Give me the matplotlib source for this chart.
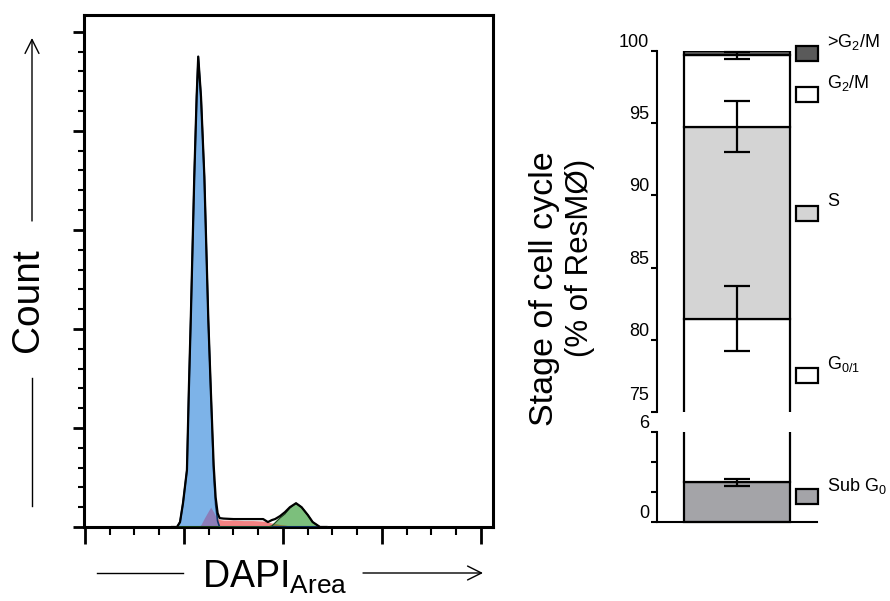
import numpy as np
import matplotlib
matplotlib.use("Agg")
import matplotlib.pyplot as plt
from matplotlib.patches import Rectangle, FancyArrowPatch
from matplotlib.lines import Line2D
from matplotlib.ticker import MultipleLocator
from matplotlib.transforms import ScaledTranslation

plt.rcParams['font.family'] = ['Liberation Sans', 'DejaVu Sans']
plt.rcParams['mathtext.fontset'] = 'custom'
plt.rcParams['mathtext.rm'] = 'Liberation Sans'
plt.rcParams['mathtext.it'] = 'Liberation Sans:italic'

# --- histogram (DAPI area vs count) ---
dapi = [44, 46.5, 48, 49.5, 51.5, 52.5, 53.5, 55.2, 56.4, 57.2, 58.6, 60.3,
        62.3, 63.5, 65.0, 66.0, 67.0, 68.0, 70, 75, 80, 85, 90, 92.4, 94.4,
        96, 98.5, 101, 103.5, 106.6, 109.4, 112.6, 115, 118.7, 122]
g01 = [0, 0, 10, 48, 115, 283, 430, 707, 869, 950, 869, 707, 418, 283, 110,
       45, 12, 0, 0, 0, 0, 0, 0, 0, 0, 0, 0, 0, 0, 0, 0, 0, 0, 0, 0]
s_phase = [0, 0, 0, 0, 0, 0, 0, 0, 0, 0, 5, 18, 32, 40, 30, 22, 17, 15, 14,
           14, 13, 13, 12, 10, 8, 7, 5, 4, 2, 0, 0, 0, 0, 0, 0]
g2m = [0, 0, 0, 0, 0, 0, 0, 0, 0, 0, 0, 0, 0, 0, 0, 0, 0, 0, 0, 0, 0, 0, 0,
       0, 2, 8, 18, 26, 38, 48, 40, 24, 10, 0, 0]
total = [0, 0, 10, 48, 115, 283, 430, 707, 869, 950, 869, 707, 418, 283, 125,
         60, 28, 18, 17, 16, 16, 16, 16, 10, 14, 16, 22, 30, 40, 48, 40, 24,
         10, 0, 0]

# --- stacked bar (% of ResMO), bottom to top ---
stages = ['Sub G0', 'G0/1', 'S', 'G2/M', '>G2/M']
means = [2.65, 78.8, 13.32, 4.93, 0.3]
sems = [0.25, 2.25, 1.78, 0.22, 0.0]
stage_labels = [r'Sub G$_\mathregular{0}$', r'G$_\mathregular{0/1}$', 'S',
                r'G$_\mathregular{2}$/M', r'>G$_\mathregular{2}$/M']
stage_colors = ['#a4a4a8', 'white', '#d4d4d4', 'white', '#5a5a5a']

W, H = 890, 601


def box(x0, y0, x1, y1):
    return [x0 / W, 1 - y1 / H, (x1 - x0) / W, (y1 - y0) / H]


def fp(x, y):
    return (x / W, 1 - y / H)


fig = plt.figure(figsize=(W / 100, H / 100), dpi=100)

# ---------------- left panel ----------------
ax = fig.add_axes(box(84, 15, 493, 527))
x = np.array(dapi)
g01 = np.array(g01)
s_phase = np.array(s_phase)
g2m = np.array(g2m)

ax.fill_between(x, g01, color='#7db3e8', lw=0, zorder=2)
ax.fill_between(x, s_phase, color='#f28282', lw=0, zorder=1.5)
ax.fill_between(x, np.minimum(g01, s_phase), color='#8c7db8', lw=0, zorder=2.2)
ax.fill_between(x, g2m, color='#7cbf7c', lw=0, zorder=2)
ax.fill_between(x, np.minimum(g2m, s_phase), color='#8c8040', lw=0, zorder=2.2)
ax.plot(x, g01, color='#0d3366', lw=1.2, zorder=3)
ax.plot(x, g2m, color='#1c4f1c', lw=1.0, zorder=3)
ax.plot(x, total, color='black', lw=1.6, zorder=4)

ax.set_xlim(-0.5, 206.1)
ax.set_ylim(0, 1034)
ax.xaxis.set_major_locator(MultipleLocator(50))
ax.xaxis.set_minor_locator(MultipleLocator(12.5))
ax.yaxis.set_major_locator(MultipleLocator(200))
ax.yaxis.set_minor_locator(MultipleLocator(40))
ax.set_xticklabels([])
ax.set_yticklabels([])
ax.tick_params(axis='x', which='major', length=12, width=2, direction='out')
ax.tick_params(axis='x', which='minor', length=6, width=1.5, direction='out')
ax.tick_params(axis='y', which='major', length=8, width=2, direction='out')
ax.tick_params(axis='y', which='minor', length=4, width=1.5, direction='out')
for sp in ax.spines.values():
    sp.set_linewidth(2.2)

# axis titles with arrows
fig.text(*fp(28, 300), 'Count', fontsize=28, rotation=90,
         ha='center', va='center')
fig.add_artist(Line2D([32 / W, 32 / W], [1 - 506 / H, 1 - 378 / H],
                      color='black', lw=1.0))
fig.add_artist(FancyArrowPatch(fp(32, 221), fp(32, 38), transform=fig.transFigure,
                               arrowstyle='->,head_length=0.5,head_width=0.25',
                               mutation_scale=20, lw=1.0, color='black',
                               shrinkA=0, shrinkB=0))
fig.text(*fp(202, 588), r'DAPI$_\mathregular{Area}$', fontsize=27,
         ha='left', va='baseline')
fig.add_artist(Line2D([97 / W, 183 / W], [1 - 573 / H, 1 - 573 / H],
                      color='black', lw=1.0))
fig.add_artist(FancyArrowPatch(fp(363, 573), fp(483, 573), transform=fig.transFigure,
                               arrowstyle='->,head_length=0.5,head_width=0.25',
                               mutation_scale=20, lw=1.0, color='black',
                               shrinkA=0, shrinkB=0))

# ---------------- right panel (broken y axis) ----------------
ax_top = fig.add_axes(box(657, 51, 817, 412))
ax_bot = fig.add_axes(box(657, 432, 817, 522))

tops = np.cumsum(means)
bottoms = tops - np.array(means)
bar_x, bar_w = 0.5, 0.6625

for a, (lo, hi) in zip([ax_top, ax_bot], [(75, 100), (0, 6)]):
    a.set_xlim(0, 1)
    a.set_ylim(lo, hi)
    for b, m, t, e, c in zip(bottoms, means, tops, sems, stage_colors):
        inside = lo <= b and t <= hi
        a.bar(bar_x, m, bottom=b, width=bar_w, color=c, edgecolor='black',
              lw=1.6, zorder=2, clip_on=not inside)
        if e > 0:
            a.errorbar(bar_x, t, yerr=e, color='black', lw=1.6, capsize=9.5,
                       capthick=1.6, zorder=3,
                       clip_on=not (lo <= t - e and t + e <= hi))
    a.spines['top'].set_visible(False)
    a.spines['right'].set_visible(False)
    a.spines['left'].set_linewidth(1.5)
    a.set_xticks([])
    a.tick_params(axis='y', length=4, width=1.5, pad=1.5, labelsize=13)

ax_top.spines['bottom'].set_visible(False)
ax_top.set_yticks([75, 80, 85, 90, 95, 100])
ax_bot.set_yticks([0, 2, 4, 6])
ax_bot.set_yticklabels(['0', '', '', '6'])
ax_bot.spines['bottom'].set_linewidth(1.5)
for a in (ax_top, ax_bot):
    for lbl in a.get_yticklabels():
        lbl.set_va('bottom')
# the lowest label of the upper segment sits a little higher, clear of the break
lbl75 = ax_top.get_yticklabels()[0]
lbl75.set_transform(lbl75.get_transform()
                    + ScaledTranslation(0, 6 / 72, fig.dpi_scale_trans))

fig.text(*fp(545, 289), 'Stage of cell cycle', fontsize=24.5, rotation=90,
         ha='center', va='center')
fig.text(*fp(580, 258), '(% of ResMØ)', fontsize=22.5, rotation=90,
         ha='center', va='center')

# legend boxes beside the bar
legend_y = [496.5, 375, 213, 94, 53]
for yc, lab, c in zip(legend_y, stage_labels, stage_colors):
    fig.add_artist(Rectangle(fp(796, yc + 7.5), 22 / W, 15 / H,
                             transform=fig.transFigure, facecolor=c,
                             edgecolor='black', lw=1.6))
    fig.text(*fp(827, yc - 11), lab, fontsize=13, ha='left', va='center')

fig.savefig('out.png', dpi=100)
